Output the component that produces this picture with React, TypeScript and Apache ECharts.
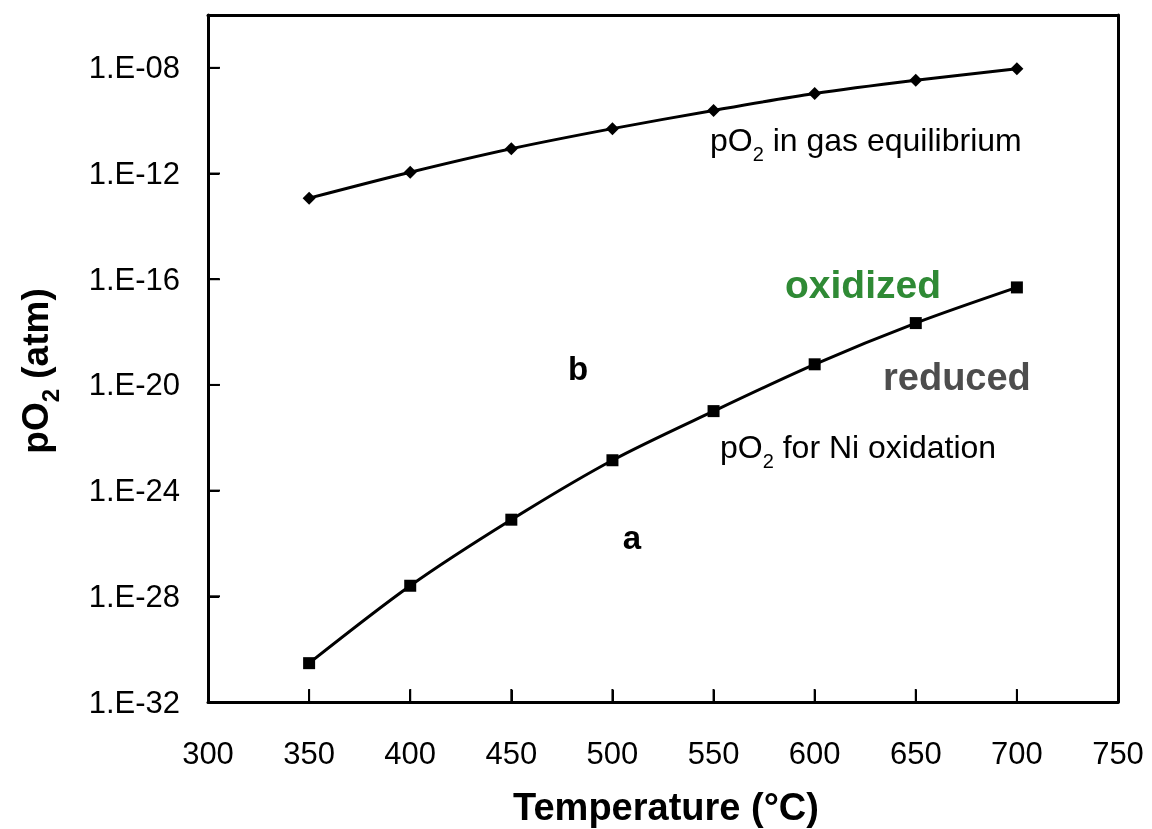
import React, { useEffect, useRef } from "react";
import * as echarts from "echarts";

// Temperature (°C)
const temperatures = [350, 400, 450, 500, 550, 600, 650, 700];
// pO2 (atm) set by the gas-phase equilibrium
const pO2GasEquilibrium = [1.17e-13, 1.12e-12, 8.7e-12, 5.0e-11, 2.45e-10, 1.07e-9, 3.39e-9, 9.3e-9];
// pO2 (atm) needed for Ni oxidation
const pO2NiOxidation = [2.95e-31, 2.51e-28, 7.94e-26, 1.41e-23, 1.02e-21, 6.03e-20, 2.19e-18, 4.9e-17];

// Axis ranges (y in decades)
const xMin = 300;
const xMax = 750;
const xStep = 50;
const yMinExp = -32;
const yMaxExp = -6;
const yStepExp = 4;
const yLastLabelExp = -8;

const FONT = "'Liberation Sans', Arial, Helvetica, sans-serif";

const toSeries = (vals: number[]) =>
  temperatures.map((t, i) => [t, Math.log10(vals[i])]);

const fmtExp = (v: number) => {
  if (v > yLastLabelExp) return "";
  const n = Math.round(-v);
  return "1.E-" + String(n).padStart(2, "0");
};

// Rich-text styles for "pO2" with a lowered, smaller "2"
const po2Rich = (size: number, weight: string, color: string) => {
  const subSize = Math.round(size * 0.64);
  const subLine = Math.round(size * 0.38);
  const mainBaseline = size / 2 + 0.3465 * size;
  const subBaseline = mainBaseline + 0.17 * size;
  const subCenter = subBaseline - 0.3465 * subSize;
  const padTop = Math.max(0, Math.round(subCenter - subLine / 2));
  return {
    n: {
      fontSize: size,
      fontWeight: weight,
      fontFamily: FONT,
      color,
      lineHeight: size,
      verticalAlign: "top",
    },
    s: {
      fontSize: subSize,
      fontWeight: weight,
      fontFamily: FONT,
      color,
      lineHeight: subLine,
      verticalAlign: "top",
      padding: [padTop, 0, 0, 0],
    },
  };
};

const annotations = [
  {
    type: "text",
    x: 710,
    y: 140,
    style: {
      text: "{n|pO}{s|2}{n| in gas equilibrium}",
      rich: po2Rich(32, "normal", "#111"),
      align: "left",
      verticalAlign: "middle",
    },
  },
  {
    type: "text",
    x: 720,
    y: 447,
    style: {
      text: "{n|pO}{s|2}{n| for Ni oxidation}",
      rich: po2Rich(32, "normal", "#111"),
      align: "left",
      verticalAlign: "middle",
    },
  },
  {
    type: "text",
    x: 785,
    y: 284,
    style: {
      text: "oxidized",
      font: `bold 39px ${FONT}`,
      fill: "#2f8a35",
      align: "left",
      verticalAlign: "middle",
    },
  },
  {
    type: "text",
    x: 883,
    y: 377,
    style: {
      text: "reduced",
      font: `bold 38px ${FONT}`,
      fill: "#4d4d4d",
      align: "left",
      verticalAlign: "middle",
    },
  },
  {
    type: "text",
    x: 568,
    y: 368,
    style: { text: "b", font: `bold 33px ${FONT}`, fill: "#000", align: "left", verticalAlign: "middle" },
  },
  {
    type: "text",
    x: 632,
    y: 537,
    style: { text: "a", font: `bold 33px ${FONT}`, fill: "#000", align: "center", verticalAlign: "middle" },
  },
  {
    type: "text",
    x: 666,
    y: 807,
    style: {
      text: "Temperature (°C)",
      font: `bold 38px ${FONT}`,
      fill: "#000",
      align: "center",
      verticalAlign: "middle",
    },
  },
  {
    type: "text",
    x: 35,
    y: 371,
    rotation: Math.PI / 2,
    style: {
      text: "{n|pO}{s|2}{n| (atm)}",
      rich: po2Rich(37, "bold", "#000"),
      align: "center",
      verticalAlign: "middle",
    },
  },
];

export default function App() {
  const ref = useRef<HTMLDivElement>(null);

  useEffect(() => {
    if (!ref.current) return;
    const chart = echarts.init(ref.current, undefined, { renderer: "svg" });

    const lineStyle = { color: "#000", width: 3 };
    const frame = { color: "#000", width: 3 };

    chart.setOption({
      animation: false,
      grid: { left: 208, right: 34, top: 15, bottom: 127 },
      xAxis: [
        {
          type: "value",
          position: "bottom",
          min: xMin,
          max: xMax,
          interval: xStep,
          axisLine: { show: true, lineStyle: frame },
          axisTick: { show: true, inside: true, length: 12, lineStyle: { color: "#000", width: 2 } },
          axisLabel: { color: "#000", fontSize: 31, fontFamily: FONT, margin: 36 },
          splitLine: { show: false },
        },
        {
          type: "value",
          position: "top",
          min: xMin,
          max: xMax,
          interval: xStep,
          axisLine: { show: true, lineStyle: frame },
          axisTick: { show: false },
          axisLabel: { show: false },
          splitLine: { show: false },
        },
      ],
      yAxis: [
        {
          type: "value",
          position: "left",
          min: yMinExp,
          max: yMaxExp,
          interval: yStepExp,
          axisLine: { show: true, lineStyle: frame },
          axisTick: { show: true, inside: true, length: 11, lineStyle: { color: "#000", width: 2 } },
          axisLabel: { color: "#000", fontSize: 31, fontFamily: FONT, margin: 28, formatter: fmtExp },
          splitLine: { show: false },
        },
        {
          type: "value",
          position: "right",
          min: yMinExp,
          max: yMaxExp,
          interval: yStepExp,
          axisLine: { show: true, lineStyle: frame },
          axisTick: { show: false },
          axisLabel: { show: false },
          splitLine: { show: false },
        },
      ],
      series: [
        {
          name: "pO2 in gas equilibrium",
          type: "line",
          data: toSeries(pO2GasEquilibrium),
          smooth: 0.3,
          symbol: "diamond",
          symbolSize: 13,
          itemStyle: { color: "#000" },
          lineStyle,
          z: 3,
        },
        {
          name: "pO2 for Ni oxidation",
          type: "line",
          data: toSeries(pO2NiOxidation),
          smooth: 0.3,
          symbol: "rect",
          symbolSize: 12,
          itemStyle: { color: "#000" },
          lineStyle,
          z: 3,
        },
      ],
    });

    // Inward tick marks as thin filled bars, placed through the axes' own scales
    const axisY = chart.convertToPixel({ yAxisIndex: 0 }, yMinExp) as number;
    const axisX = chart.convertToPixel({ xAxisIndex: 0 }, xMin) as number;
    const ticks: any[] = [];
    for (let v = xMin + xStep; v < xMax; v += xStep) {
      const px = chart.convertToPixel({ xAxisIndex: 0 }, v) as number;
      ticks.push({
        type: "rect",
        z: 100,
        shape: { x: px - 1, y: axisY - 13, width: 2, height: 13 },
        style: { fill: "#000" },
      });
    }
    for (let v = yMinExp + yStepExp; v <= yLastLabelExp; v += yStepExp) {
      const py = chart.convertToPixel({ yAxisIndex: 0 }, v) as number;
      ticks.push({
        type: "rect",
        z: 100,
        shape: { x: axisX, y: py - 1, width: 12, height: 2 },
        style: { fill: "#000" },
      });
    }

    chart.setOption({ graphic: [...ticks, ...annotations] });

    return () => chart.dispose();
  }, []);

  return <div ref={ref} style={{ position: "fixed", left: 0, top: 0, width: 1152, height: 829 }} />;
}
